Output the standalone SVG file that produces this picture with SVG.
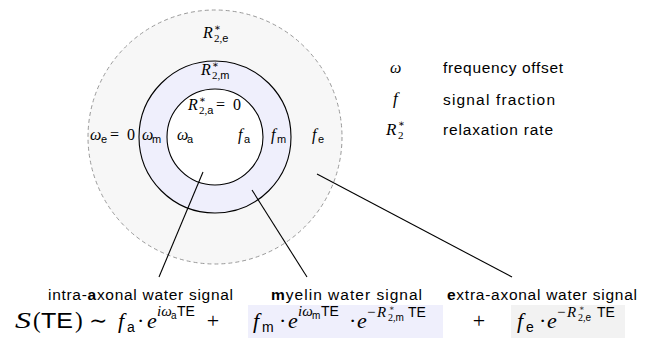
<svg xmlns="http://www.w3.org/2000/svg" width="645" height="340" viewBox="0 0 645 340">
<style>
.mi{font-family:"Liberation Serif","DejaVu Serif",serif;font-style:italic;fill:#000}
.mr{font-family:"Liberation Serif","DejaVu Serif",serif;fill:#000}
.sf{font-family:"Liberation Sans","DejaVu Sans",sans-serif;fill:#000}
.lbl{font-family:"Liberation Sans","DejaVu Sans",sans-serif;font-size:15.5px;fill:#000}
.conn{stroke:#000;stroke-width:1.1;fill:none}
</style>
<rect width="645" height="340" fill="#fff"/>

<g id="extra-axonal">
<circle cx="215" cy="137" r="127" fill="#f7f7f7" stroke="#999" stroke-width="1" stroke-dasharray="4,3"/>
<text class="mi" x="203" y="38" font-size="16">R</text>
<text class="mr" x="214" y="31" font-size="10">∗</text>
<text class="mr" x="214" y="42" font-size="11">2,<tspan class="sf">e</tspan></text>
<text class="mi" x="90" y="140" font-size="16">ω</text>
<text class="sf" x="101" y="143" font-size="11">e</text>
<text class="mr" x="110" y="140" font-size="16">=</text>
<text class="mr" x="127" y="140" font-size="16">0</text>
<text class="mi" x="312" y="140" font-size="16">f</text>
<text class="sf" x="318" y="143" font-size="11">e</text>
</g>

<g id="myelin">
<circle cx="215" cy="137" r="76" fill="#efeffc" stroke="#000" stroke-width="1.1"/>
<text class="mi" x="201" y="75" font-size="16">R</text>
<text class="mr" x="212" y="68" font-size="10">∗</text>
<text class="mr" x="212" y="79" font-size="11">2,<tspan class="sf">m</tspan></text>
<text class="mi" x="142" y="140" font-size="16">ω</text>
<text class="sf" x="152" y="143" font-size="11">m</text>
<text class="mi" x="271" y="140" font-size="16">f</text>
<text class="sf" x="277" y="143" font-size="11">m</text>
</g>

<g id="axon">
<circle cx="215" cy="137" r="48" fill="#fff" stroke="#000" stroke-width="1.1"/>
<text class="mi" x="188" y="110" font-size="16">R</text>
<text class="mr" x="199" y="103" font-size="10">∗</text>
<text class="mr" x="199" y="114" font-size="11">2,<tspan class="sf">a</tspan></text>
<text class="mr" x="216" y="110" font-size="16">=</text>
<text class="mr" x="233" y="110" font-size="16">0</text>
<text class="mi" x="177" y="140" font-size="16">ω</text>
<text class="sf" x="187" y="143" font-size="11">a</text>
<text class="mi" x="238" y="140" font-size="16">f</text>
<text class="sf" x="244" y="143" font-size="11">a</text>
</g>

<g id="legend">
<text class="mi" x="390" y="73" font-size="16">ω</text>
<text class="lbl" x="443" y="73" textLength="120" lengthAdjust="spacing">frequency offset</text>
<text class="mi" x="393" y="104" font-size="17">f</text>
<text class="lbl" x="443" y="105" textLength="112" lengthAdjust="spacing">signal fraction</text>
<text class="mi" x="386" y="135" font-size="17">R</text>
<text class="mr" x="398" y="127" font-size="10">∗</text>
<text class="mr" x="398" y="139" font-size="11">2</text>
<text class="lbl" x="443" y="135" textLength="110" lengthAdjust="spacing">relaxation rate</text>
</g>

<g id="connectors">
<line class="conn" x1="203" y1="172" x2="159" y2="277"/>
<line class="conn" x1="252" y1="190" x2="307" y2="277"/>
<line class="conn" x1="317" y1="174" x2="512" y2="277"/>
</g>

<g id="label-axonal">
<text class="lbl" x="48" y="300" textLength="185" lengthAdjust="spacing">intra-<tspan font-weight="bold">a</tspan>xonal water signal</text>
</g>
<g id="label-myelin">
<text class="lbl" x="271" y="300" textLength="151" lengthAdjust="spacing"><tspan font-weight="bold">m</tspan>yelin water signal</text>
</g>
<g id="label-extra">
<text class="lbl" x="447" y="300" textLength="190" lengthAdjust="spacing"><tspan font-weight="bold">e</tspan>xtra-axonal water signal</text>
</g>

<g id="formula">
<rect x="248" y="305" width="195" height="33" fill="#efeffc"/>
<rect x="511" y="305" width="114" height="33" fill="#f2f2f2"/>
<text class="mi" x="15" y="328" font-size="23" textLength="16" lengthAdjust="spacingAndGlyphs">S</text>
<text class="mr" x="33" y="328" font-size="23">(</text>
<text class="sf" x="41" y="328" font-size="22" textLength="32" lengthAdjust="spacingAndGlyphs">TE</text>
<text class="mr" x="75" y="328" font-size="23">)</text>
<text class="mr" x="89" y="328" font-size="22">∼</text>
<text class="mi" x="118" y="328" font-size="22">f</text>
<text class="sf" x="127" y="332" font-size="14">a</text>
<text class="mr" x="137" y="328" font-size="22">·</text>
<text class="mi" x="147" y="328" font-size="22">e</text>
<text class="mi" x="157" y="316" font-size="15">iω</text>
<text class="sf" x="171" y="319" font-size="10">a</text>
<text class="sf" x="177" y="316" font-size="14">TE</text>
<text class="mr" x="213" y="328" font-size="22" text-anchor="middle">+</text>

<text class="mi" x="253" y="328" font-size="22">f</text>
<text class="sf" x="262" y="332" font-size="14">m</text>
<text class="mr" x="279" y="328" font-size="22">·</text>
<text class="mi" x="288" y="328" font-size="22">e</text>
<text class="mi" x="298" y="316" font-size="15">iω</text>
<text class="sf" x="312" y="319" font-size="10">m</text>
<text class="sf" x="321" y="316" font-size="14">TE</text>
<text class="mr" x="349" y="328" font-size="22">·</text>
<text class="mi" x="357" y="328" font-size="22">e</text>
<text class="mr" x="367" y="317" font-size="15">−</text>
<text class="mi" x="377" y="317" font-size="15">R</text>
<text class="mr" x="389" y="311" font-size="8">∗</text>
<text class="mr" x="388" y="321" font-size="10">2,<tspan class="sf">m</tspan></text>
<text class="sf" x="408" y="317" font-size="14">TE</text>

<text class="mr" x="479" y="328" font-size="22" text-anchor="middle">+</text>
<text class="mi" x="517" y="328" font-size="22">f</text>
<text class="sf" x="526" y="332" font-size="14">e</text>
<text class="mr" x="539" y="328" font-size="22">·</text>
<text class="mi" x="547" y="328" font-size="22">e</text>
<text class="mr" x="557" y="317" font-size="15">−</text>
<text class="mi" x="567" y="317" font-size="15">R</text>
<text class="mr" x="579" y="311" font-size="8">∗</text>
<text class="mr" x="578" y="321" font-size="10">2,<tspan class="sf">e</tspan></text>
<text class="sf" x="597" y="317" font-size="14">TE</text>
</g>
</svg>
